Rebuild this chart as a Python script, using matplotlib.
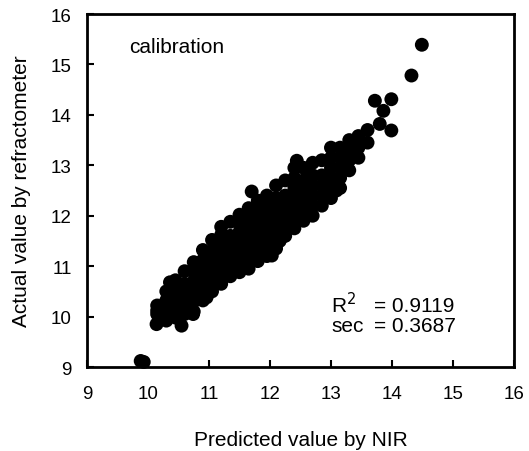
import matplotlib

matplotlib.use("Agg")

from matplotlib import pyplot as plt

# predicted (NIR) vs actual (refractometer)
pred_nir = [
    9.88, 9.93,
    10.14, 10.15, 10.15, 10.15,
    10.3, 10.3, 10.3, 10.3,
    10.45, 10.45, 10.45, 10.45, 10.45,
    10.55, 10.36,
    10.6, 10.6, 10.6, 10.6, 10.6,
    10.75, 10.75, 10.75, 10.75, 10.75, 10.75,
    10.9, 10.9, 10.9, 10.9, 10.9, 10.9,
    11.05, 11.05, 11.05, 11.05, 11.05, 11.05,
    11.2, 11.2, 11.2, 11.2, 11.2, 11.2, 11.2,
    11.35, 11.35, 11.35, 11.35, 11.35, 11.35,
    11.5, 11.5, 11.5, 11.5, 11.5, 11.5, 11.5,
    11.65, 11.65, 11.65, 11.65, 11.65, 11.65, 11.65,
    11.8, 11.8, 11.8, 11.8, 11.8, 11.8, 11.8,
    11.95, 11.95, 11.95, 11.95, 11.95, 11.95, 11.95,
    12.1, 12.1, 12.1, 12.1, 12.1, 12.1, 12.1,
    12.25, 12.25, 12.25, 12.25, 12.25, 12.25,
    12.4, 12.4, 12.4, 12.4, 12.4, 12.4, 12.4,
    12.55, 12.55, 12.55, 12.55, 12.55, 12.55,
    12.7, 12.7, 12.7, 12.7, 12.7, 12.7,
    12.85, 12.85, 12.85, 12.85, 12.85,
    13.0, 13.0, 13.0, 13.0, 13.0, 13.0,
    13.15, 13.15, 13.15, 13.15, 13.15,
    13.3, 13.3, 13.3, 13.3,
    13.45, 13.45, 13.45,
    13.6, 13.6,
    11.70, 12.44, 13.09, 12.03, 12.16, 11.40, 10.96, 10.74,
    13.80, 13.99, 13.72, 13.99, 13.86, 14.32, 14.49,
]
actual_ref = [
    9.12, 9.10,
    9.85, 10.05, 10.22, 10.12,
    9.92, 10.12, 10.32, 10.5,
    9.98, 10.18, 10.38, 10.58, 10.72,
    9.82, 10.68,
    10.05, 10.25, 10.45, 10.65, 10.9,
    10.1, 10.3, 10.5, 10.7, 10.9, 11.08,
    10.32, 10.52, 10.72, 10.92, 11.12, 11.32,
    10.5, 10.7, 10.9, 11.1, 11.3, 11.52,
    10.65, 10.85, 11.05, 11.25, 11.45, 11.62, 11.78,
    10.8, 11.0, 11.2, 11.4, 11.6, 11.88,
    10.88, 11.08, 11.28, 11.48, 11.68, 11.85, 12.02,
    10.95, 11.15, 11.35, 11.55, 11.75, 11.95, 12.15,
    11.1, 11.3, 11.5, 11.7, 11.9, 12.1, 12.3,
    11.2, 11.4, 11.6, 11.8, 12.0, 12.2, 12.4,
    11.35, 11.55, 11.75, 11.95, 12.15, 12.35, 12.6,
    11.6, 11.8, 12.0, 12.2, 12.4, 12.7,
    11.75, 11.95, 12.15, 12.35, 12.55, 12.75, 12.95,
    11.9, 12.1, 12.3, 12.5, 12.7, 12.95,
    12.0, 12.2, 12.4, 12.6, 12.8, 13.05,
    12.2, 12.4, 12.6, 12.8, 13.1,
    12.35, 12.55, 12.75, 12.95, 13.15, 13.35,
    12.55, 12.75, 12.95, 13.15, 13.35,
    12.9, 13.1, 13.3, 13.5,
    13.15, 13.35, 13.58,
    13.45, 13.7,
    12.48, 13.09, 12.50, 11.21, 11.50, 10.88, 10.38, 10.05,
    13.82, 13.69, 14.28, 14.31, 14.08, 14.78, 15.39,
]
axis_ticks = [9, 10, 11, 12, 13, 14, 15, 16]

plt.rcParams["font.family"] = ["Liberation Sans", "DejaVu Sans"]

fig = plt.figure(figsize=(5.29, 4.52), dpi=100)
ax = fig.add_axes([0.1645, 0.1858, 0.807, 0.781])

ax.scatter(pred_nir, actual_ref, s=100, c="black", edgecolors="none",
           clip_on=False, zorder=3)

ax.set_xlim(9, 16)
ax.set_ylim(9, 16)
ax.set_xticks(axis_ticks)
ax.set_yticks(axis_ticks)
ax.tick_params(axis="x", direction="in", length=5, width=1.5, labelsize=13.5,
               pad=13, top=False)
ax.tick_params(axis="y", direction="in", length=5, width=1.5, labelsize=13.5,
               pad=11, right=False)
for spine in ax.spines.values():
    spine.set_linewidth(2)
    spine.set_zorder(4)

ax.set_xlabel("Predicted value by NIR", fontsize=15, labelpad=20)
ax.set_ylabel("Actual value by refractometer", fontsize=15, labelpad=14)

ax.text(9.69, 15.35, "calibration", fontsize=15, va="center")
ax.text(13.0, 10.25, "R$^2$", fontsize=15, va="center")
ax.text(13.0, 9.83, "sec", fontsize=15, va="center")
ax.text(13.7, 10.22, "= 0.9119", fontsize=15, va="center")
ax.text(13.7, 9.83, "= 0.3687", fontsize=15, va="center")

fig.savefig("out.png", dpi=100)
plt.close(fig)
